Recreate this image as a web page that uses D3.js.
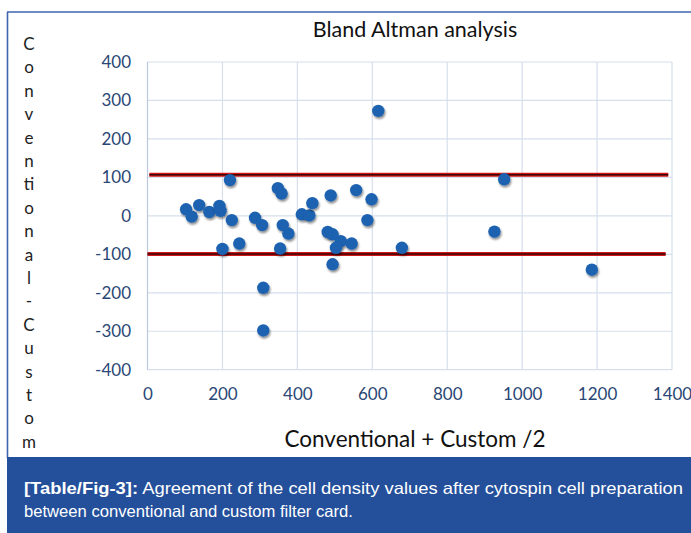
<!DOCTYPE html>
<html><head><meta charset="utf-8">
<script src="https://cdn.jsdelivr.net/npm/d3@7"></script>
<style>
body{margin:0;background:#fff;}
svg{display:block;}
</style></head>
<body>
<svg id="chart" width="691" height="533"></svg>
<script>
// ---- data ----
const meanValues = [103,118,138,165,192,195,220,225,200,245,287,306,348,358,361,376,354,309,309,412,432,440,489,481,494,516,503,545,494,557,598,587,679,616,952,926,1186];
const diffValues = [17,-2,28,10,26,13,93,-11,-86,-72,-5,-24,72,58,-24,-46,-85,-187,-298,4,1,33,53,-42,-48,-66,-83,-72,-126,67,43,-11,-83,273,95,-41,-140];
const limitValues = [107, -99];
const limitStart = [5, 0];
const limitEnd = [1390, 1383];
const xTicks = [0,200,400,600,800,1000,1200,1400];
const yTicks = [400,300,200,100,0,-100,-200,-300,-400];
const titleText = "Bland Altman analysis";
const xTitle = "Conventional + Custom /2";
const yTitleLetters = ["C","o","n","v","e","n","ti","o","n","a","l","-","C","u","s","t","o","m"];

const svg = d3.select("#chart");
const x = d3.scaleLinear().domain([0,1400]).range([147.5,672]);
const y = d3.scaleLinear().domain([-400,400]).range([369.7,62]);
const FONT = "Lato, 'Open Sans', sans-serif";

// frame
svg.append("line").attr("x1",7).attr("x2",691).attr("y1",12).attr("y2",12)
  .attr("stroke","#3f64b0").attr("stroke-width",1.6);
svg.append("line").attr("x1",7.5).attr("x2",7.5).attr("y1",12).attr("y2",458)
  .attr("stroke","#3f64b0").attr("stroke-width",1.6);

// caption box
svg.append("rect").attr("x",7).attr("y",457).attr("width",684).attr("height",76).attr("fill","#234f9b");
const cap = svg.append("text").attr("x",24).attr("y",494)
  .attr("font-family","'Liberation Sans', Arial, sans-serif").attr("font-size",16.5).attr("fill","#fff")
  .attr("textLength",659).attr("lengthAdjust","spacingAndGlyphs");
cap.append("tspan").attr("font-weight","bold").text("[Table/Fig-3]:");
cap.append("tspan").text(" Agreement of the cell density values after cytospin cell preparation");
svg.append("text").attr("x",24).attr("y",517)
  .attr("font-family","'Liberation Sans', Arial, sans-serif").attr("font-size",16.5).attr("fill","#fff")
  .attr("textLength",329).attr("lengthAdjust","spacingAndGlyphs")
  .text("between conventional and custom filter card.");

// grid
const grid = svg.append("g");
grid.selectAll(".hg").data(yTicks).join("line")
  .attr("x1",x(0)).attr("x2",x(1400)).attr("y1",d=>y(d)).attr("y2",d=>y(d))
  .attr("stroke","#d6dfeb").attr("stroke-width",1.2);
grid.selectAll(".vg").data(xTicks).join("line")
  .attr("x1",d=>x(d)).attr("x2",d=>x(d)).attr("y1",y(400)).attr("y2",y(-400))
  .attr("stroke",d=>d===0?"#b9c8de":"#d6dfeb").attr("stroke-width",1.2);

// axes (labels only)
const fmt = d => String(d);
const yAxis = d3.axisLeft(y).tickValues(yTicks).tickFormat(fmt).tickSize(0).tickPadding(0);
const gy = svg.append("g").attr("transform","translate(131,0)").call(yAxis);
gy.select(".domain").remove();
gy.selectAll("text").attr("font-family",FONT).attr("font-size",17).attr("fill","#2a4775");

const xAxis = d3.axisBottom(x).tickValues(xTicks).tickFormat(fmt).tickSize(0).tickPadding(0);
const gx = svg.append("g").attr("transform","translate(0,388)").call(xAxis);
gx.select(".domain").remove();
gx.selectAll("text").attr("font-family",FONT).attr("font-size",17).attr("fill","#2a4775");

// limit lines
const lim = svg.append("g");
lim.selectAll(".l1").data(limitValues).join("line")
  .attr("x1",(d,i)=>x(limitStart[i])).attr("x2",(d,i)=>x(limitEnd[i]))
  .attr("y1",d=>y(d)).attr("y2",d=>y(d))
  .attr("stroke","#d01818").attr("stroke-width",4);
lim.selectAll(".l2").data(limitValues).join("line")
  .attr("x1",(d,i)=>x(limitStart[i])).attr("x2",(d,i)=>x(limitEnd[i]))
  .attr("y1",d=>y(d)).attr("y2",d=>y(d))
  .attr("stroke","#3a0606").attr("stroke-width",1.5);

// shadow filter
const defs = svg.append("defs");
const f = defs.append("filter").attr("id","sh").attr("x","-50%").attr("y","-50%").attr("width","200%").attr("height","200%");
f.append("feGaussianBlur").attr("in","SourceAlpha").attr("stdDeviation",1.3).attr("result","b");
f.append("feOffset").attr("in","b").attr("dx",1).attr("dy",2).attr("result","o");
f.append("feComponentTransfer").attr("in","o").attr("result","o2")
  .append("feFuncA").attr("type","linear").attr("slope",0.45);
const m = f.append("feMerge");
m.append("feMergeNode").attr("in","o2");
m.append("feMergeNode").attr("in","SourceGraphic");

// points
svg.append("g").selectAll("circle").data(meanValues).join("circle")
  .attr("cx",d=>x(d)).attr("cy",(d,i)=>y(diffValues[i])).attr("r",6.2)
  .attr("fill","#1c62b1").attr("filter","url(#sh)");

// titles
svg.append("text").attr("x",415).attr("y",37).attr("text-anchor","middle")
  .attr("font-family",FONT).attr("font-size",21.5).attr("fill","#111").text(titleText);
svg.append("text").attr("x",415).attr("y",447).attr("text-anchor","middle")
  .attr("font-family",FONT).attr("font-size",22.5).attr("fill","#111").text(xTitle);
svg.append("g").selectAll("text").data(yTitleLetters).join("text")
  .attr("x",29).attr("y",(d,i)=>50 + i*23.4).attr("text-anchor","middle")
  .attr("font-family",FONT).attr("font-size",17).attr("fill","#222").text(d=>d);
</script>
</body></html>
